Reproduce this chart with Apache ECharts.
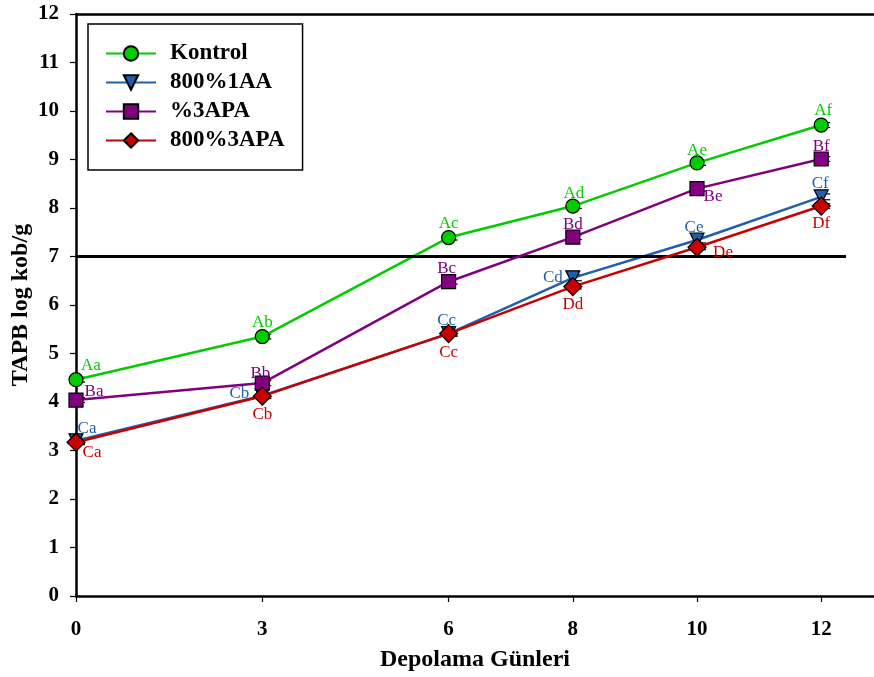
<!DOCTYPE html>
<html>
<head>
<meta charset="utf-8">
<script src="https://cdn.jsdelivr.net/npm/echarts@6/dist/echarts.min.js"></script>
<style>
  html, body { margin: 0; padding: 0; background: #fff; }
  #chart { width: 874px; height: 677px; }
</style>
</head>
<body>
<div id="chart"></div>
<script>
// Storage days and total aerobic mesophilic bacteria counts (log cfu/g)
const days = [0, 3, 6, 8, 10, 12];
const dayTicks = [0, 3, 6, 8, 10, 12];
const yTicks = [0, 1, 2, 3, 4, 5, 6, 7, 8, 9, 10, 11, 12];

const seriesNames = ['Kontrol', '800%1AA', '%3APA', '800%3APA'];

const kontrol   = [4.46, 5.35, 7.39, 8.04, 8.93, 9.71];
const aa1_800   = [3.20, 4.13, 5.41, 6.56, 7.34, 8.23];
const apa3      = [4.04, 4.39, 6.48, 7.40, 8.40, 9.01];
const apa3_800  = [3.17, 4.12, 5.41, 6.38, 7.19, 8.04];

// standard errors (small)
const kontrolErr  = [0.05, 0.05, 0.05, 0.05, 0.05, 0.05];
const aa1_800Err  = [0.05, 0.05, 0.05, 0.06, 0.06, 0.06];
const apa3Err     = [0.05, 0.05, 0.05, 0.05, 0.05, 0.05];
const apa3_800Err = [0.05, 0.05, 0.05, 0.05, 0.05, 0.05];

// significance letters
const kontrolLetters  = ['Aa', 'Ab', 'Ac', 'Ad', 'Ae', 'Af'];
const aa1_800Letters  = ['Ca', 'Cb', 'Cc', 'Cd', 'Ce', 'Cf'];
const apa3Letters     = ['Ba', 'Bb', 'Bc', 'Bd', 'Be', 'Bf'];
const apa3_800Letters = ['Ca', 'Cb', 'Cc', 'Dd', 'De', 'Df'];

// microbial limit
const limitValue = 7;

// label placement (pixel offsets from the point centre)
const kontrolOff  = [[15, -14], [0, -14], [0, -14], [1, -13], [0, -12], [2, -15]];
const aa1_800Off  = [[11, -12], [-23, -2], [-2, -13], [-20, 0], [-3, -12], [-1, -13]];
const apa3Off     = [[18, -9], [-2, -10], [-2, -13], [0, -13], [16, 8], [0, -12]];
const apa3_800Off = [[16, 10], [0, 18], [0, 19], [0, 18], [26, 5], [0, 17]];

const serif = '"Liberation Serif", "Times New Roman", serif';

const styles = [
  { color: '#00cc00', symbol: 'circle', size: 14 },
  { color: '#1f5fad', symbol: 'triangle', size: 14, rotate: 180 },
  { color: '#800080', symbol: 'rect', size: 14 },
  { color: '#c80000', symbol: 'diamond', size: 18 }
];

const values = [kontrol, aa1_800, apa3, apa3_800];
const errors = [kontrolErr, aa1_800Err, apa3Err, apa3_800Err];
const letters = [kontrolLetters, aa1_800Letters, apa3Letters, apa3_800Letters];
const offsets = [kontrolOff, aa1_800Off, apa3Off, apa3_800Off];

const series = [];

// error bars, drawn under the markers
values.forEach((vals, s) => {
  series.push({
    type: 'custom',
    silent: true,
    z: 2,
    data: days.map((d, i) => [d, vals[i], errors[s][i]]),
    renderItem: function (params, api) {
      const x = api.value(0), y = api.value(1), e = api.value(2);
      const top = api.coord([x, y + e]);
      const bot = api.coord([x, y - e]);
      const style = { stroke: '#000', lineWidth: 1.2 };
      return {
        type: 'group',
        children: [
          { type: 'line', shape: { x1: top[0], y1: top[1], x2: bot[0], y2: bot[1] }, style },
          { type: 'line', shape: { x1: top[0], y1: top[1], x2: top[0] + 9, y2: top[1] }, style },
          { type: 'line', shape: { x1: bot[0], y1: bot[1], x2: bot[0] + 9, y2: bot[1] }, style }
        ]
      };
    }
  });
});

values.forEach((vals, s) => {
  const st = styles[s];
  series.push({
    name: seriesNames[s],
    type: 'line',
    z: 3 + s,
    symbol: st.symbol,
    symbolSize: st.size,
    symbolRotate: st.rotate || 0,
    lineStyle: { color: st.color, width: 2.5 },
    itemStyle: { color: st.color, borderColor: '#000', borderWidth: 1.2 },
    emphasis: { disabled: true },
    data: days.map((d, i) => ({
      value: [d, vals[i]],
      label: {
        show: true,
        formatter: letters[s][i],
        position: 'inside',
        offset: offsets[s][i],
        align: 'center',
        verticalAlign: 'middle',
        color: st.color,
        fontFamily: serif,
        fontSize: 17
      }
    })),
    markLine: s === 0 ? {
      silent: true,
      symbol: 'none',
      label: { show: false },
      lineStyle: { color: '#000', width: 3, type: 'solid' },
      data: [[{ coord: [0, limitValue] }, { coord: [12.4, limitValue] }]]
    } : undefined
  });
});

const chart = echarts.init(document.getElementById('chart'), null, { renderer: 'canvas' });
chart.setOption({
  animation: false,
  backgroundColor: '#fff',
  grid: { left: 76, right: 0, top: 14, bottom: 81, outerBoundsMode: 'none', containLabel: false },
  legend: {
    data: seriesNames,
    orient: 'vertical',
    left: 88,
    top: 24,
    padding: [18, 18, 18, 17],
    itemGap: 6,
    itemWidth: 50,
    itemHeight: 18,
    borderColor: '#000',
    borderWidth: 1.5,
    backgroundColor: '#fff',
    selectedMode: false,
    textStyle: { fontFamily: serif, fontWeight: 'bold', fontSize: 23, lineHeight: 22, color: '#000', padding: [0, 0, 0, 9] }
  },
  xAxis: [{
    type: 'value',
    min: 0,
    max: 12.85,
    name: 'Depolama Günleri',
    nameLocation: 'middle',
    nameGap: 52,
    nameMoveOverlap: false,
    nameTextStyle: { fontFamily: serif, fontWeight: 'bold', fontSize: 24, color: '#000' },
    splitLine: { show: false },
    axisLine: { lineStyle: { color: '#000', width: 2.5 } },
    axisTick: { show: true, customValues: dayTicks, length: 6, lineStyle: { color: '#000', width: 1.2 } },
    axisLabel: { customValues: dayTicks, margin: 23, fontFamily: serif, fontWeight: 'bold', fontSize: 21, color: '#000' }
  }, {
    type: 'value',
    position: 'top',
    min: 0,
    max: 12.85,
    splitLine: { show: false },
    axisLine: { show: true, lineStyle: { color: '#000', width: 2.5 } },
    axisTick: { show: false },
    axisLabel: { show: false }
  }],
  yAxis: {
    type: 'value',
    min: 0,
    max: 12,
    interval: 1,
    name: 'TAPB log kob/g',
    nameLocation: 'middle',
    nameGap: 43,
    nameMoveOverlap: false,
    nameTextStyle: { fontFamily: serif, fontWeight: 'bold', fontSize: 24, color: '#000' },
    splitLine: { show: false },
    axisLine: { show: true, lineStyle: { color: '#000', width: 2.5 } },
    axisTick: { show: true, length: 6, lineStyle: { color: '#000', width: 1.2 } },
    axisLabel: {
      margin: 17, fontFamily: serif, fontWeight: 'bold', fontSize: 21, color: '#000',
      formatter: v => (yTicks.indexOf(v) >= 0 ? String(v) : '')
    }
  },
  series: series
});
</script>
</body>
</html>
